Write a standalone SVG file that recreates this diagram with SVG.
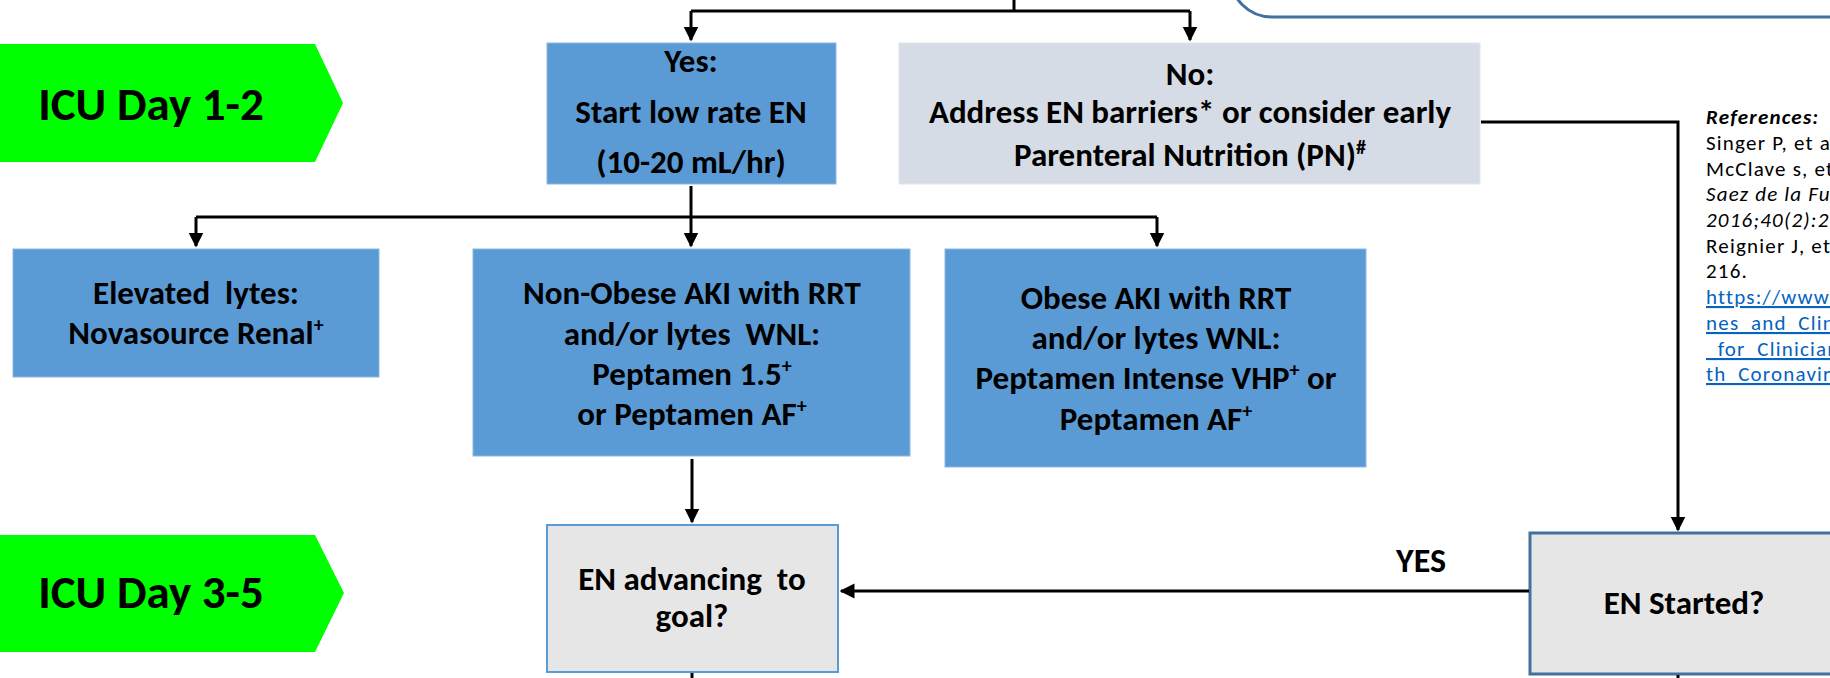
<svg xmlns="http://www.w3.org/2000/svg" width="1830" height="678" viewBox="0 0 1830 678">
<defs>
<style>
text{font-family:Carlito,"Liberation Sans Narrow","Liberation Sans",sans-serif;fill:#000;white-space:pre}
.b{font-weight:bold;font-size:33px;text-anchor:middle}
.day{font-weight:bold;font-size:47px;text-anchor:middle}
.blue{fill:#5B9BD5;stroke:#8AB8E3;stroke-width:1}
.grey{fill:#D6DCE5;stroke:#E2E6EE;stroke-width:1}
.conn{fill:none;stroke:#000;stroke-width:3}
.ref{font-size:21px;letter-spacing:1.2px}
.lnk{font-size:21px;letter-spacing:1.2px;fill:#0563C1;text-decoration:underline}
.sup{font-size:20px}
</style>
<marker id="ah" viewBox="0 0 10 10" refX="9" refY="5" markerWidth="5" markerHeight="5.5" orient="auto" markerUnits="strokeWidth">
<path d="M0,0 L10,5 L0,10 z" fill="#000"/>
</marker>
</defs>
<rect width="1830" height="678" fill="#fff"/>

<g id="topbox">
<rect x="1230" y="-80" width="700" height="97" rx="42" fill="#fff" stroke="#41719C" stroke-width="3"/>
</g>

<g id="day12">
<polygon points="0,44 315,44 343,103 315,162 0,162" fill="#00FF00"/>
<text class="day" x="151" y="120">ICU Day 1-2</text>
</g>
<g id="day35">
<polygon points="0,535 315,535 344,593 315,652 0,652" fill="#00FF00"/>
<text class="day" x="151" y="608">ICU Day 3-5</text>
</g>

<g id="yes">
<rect class="blue" x="547" y="43" width="289" height="141"/>
<text class="b" x="691" y="72">Yes:</text>
<text class="b" x="691" y="123">Start low rate EN</text>
<text class="b" x="691" y="173">(10-20 mL/hr)</text>
</g>

<g id="no">
<rect class="grey" x="899" y="43" width="581" height="141"/>
<text class="b" x="1190" y="85">No:</text>
<text class="b" x="1190" y="123">Address EN barriers* or consider early</text>
<text class="b" x="1190" y="166">Parenteral Nutrition (PN)<tspan class="sup" baseline-shift="super">#</tspan></text>
</g>

<g id="elevated">
<rect class="blue" x="13" y="249" width="366" height="128"/>
<text class="b" x="196" y="304" xml:space="preserve">Elevated  lytes:</text>
<text class="b" x="196" y="344">Novasource Renal<tspan class="sup" baseline-shift="super">+</tspan></text>
</g>

<g id="nonobese">
<rect class="blue" x="473" y="249" width="437" height="207"/>
<text class="b" x="692" y="304">Non-Obese AKI with RRT</text>
<text class="b" x="692" y="345" xml:space="preserve">and/or lytes  WNL:</text>
<text class="b" x="692" y="385">Peptamen 1.5<tspan class="sup" baseline-shift="super">+</tspan></text>
<text class="b" x="692" y="425">or Peptamen AF<tspan class="sup" baseline-shift="super">+</tspan></text>
</g>

<g id="obese">
<rect class="blue" x="945" y="249" width="421" height="218"/>
<text class="b" x="1156" y="309">Obese AKI with RRT</text>
<text class="b" x="1156" y="349">and/or lytes WNL:</text>
<text class="b" x="1156" y="389">Peptamen Intense VHP<tspan class="sup" baseline-shift="super">+</tspan> or</text>
<text class="b" x="1156" y="430">Peptamen AF<tspan class="sup" baseline-shift="super">+</tspan></text>
</g>

<g id="advancing">
<rect x="547" y="525" width="291" height="147" fill="#E7E6E6" stroke="#5B9BD5" stroke-width="2"/>
<text class="b" x="692" y="590" xml:space="preserve">EN advancing  to</text>
<text class="b" x="692" y="627">goal?</text>
</g>

<g id="started">
<rect x="1530" y="533" width="330" height="141" fill="#E6E6E6" stroke="#41719C" stroke-width="3"/>
<text class="b" x="1684" y="614">EN Started?</text>
</g>

<g id="references">
<text class="ref" x="1706" y="124" style="font-weight:bold;font-style:italic">References:</text>
<text class="ref" x="1706" y="150">Singer P, et al</text>
<text class="ref" x="1706" y="176">McClave s, et</text>
<text class="ref" x="1706" y="201" style="font-style:italic">Saez de la Fue</text>
<text class="ref" x="1706" y="227" style="font-style:italic">2016;40(2):25</text>
<text class="ref" x="1706" y="253">Reignier J, et</text>
<text class="ref" x="1706" y="278">216.</text>
<text class="lnk" x="1706" y="304">https://www.</text>
<text class="lnk" x="1706" y="330">nes_and_Clin</text>
<text class="lnk" x="1706" y="356">_for_Clinician</text>
<text class="lnk" x="1706" y="381">th_Coronavir</text>
</g>

<g id="connectors">
<path class="conn" d="M1014,0 V11"/>
<path class="conn" d="M691,11 H1190"/>
<path class="conn" d="M691,11 V40" marker-end="url(#ah)"/>
<path class="conn" d="M1190,11 V40" marker-end="url(#ah)"/>
<path class="conn" d="M691,186 V217"/>
<path class="conn" d="M196,217 H1157"/>
<path class="conn" d="M196,217 V246" marker-end="url(#ah)"/>
<path class="conn" d="M691,217 V246" marker-end="url(#ah)"/>
<path class="conn" d="M1157,217 V246" marker-end="url(#ah)"/>
<path class="conn" d="M692,459 V522" marker-end="url(#ah)"/>
<path class="conn" d="M692,673 V678"/>
<path class="conn" d="M1481,122 H1678 V530" marker-end="url(#ah)"/>
<path class="conn" d="M1529,591 H841" marker-end="url(#ah)"/>
<path class="conn" d="M1678,675 V678"/>
<text x="1421" y="572" style="font-weight:bold;font-size:34px;text-anchor:middle">YES</text>
</g>
</svg>
